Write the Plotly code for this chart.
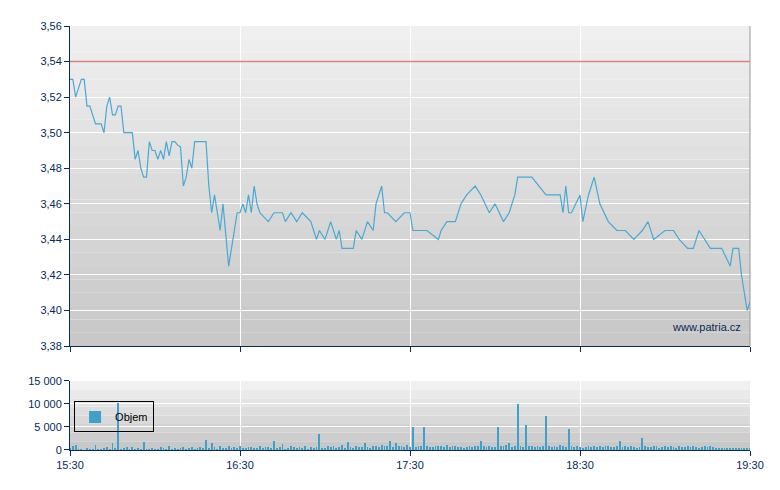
import plotly.graph_objects as go
from datetime import datetime, timedelta

t0 = datetime(2024, 1, 1, 15, 30)
price_min = [0,1,2,3,4,5,6,7,9,11,12,13,14,15,16,17,18,19,22,23,24,25,26,27,28,29,30,31,32,33,34,35,36,37,38,39,40,41,42,43,44,48,49,50,51,52,53,54,55,56,57,58,59,60,61,62,63,64,65,66,67,70,72,75,76,78,80,82,85,86,87,88,90,92,94,95,96,100,101,103,105,107,108,109,110,111,112,115,118,120,121,123,126,130,131,133,136,138,140,143,145,148,150,153,155,157,158,163,168,173,174,175,176,177,180,181,183,185,187,190,193,196,199,202,204,206,210,213,215,218,220,222,224,226,230,233,234,236,237,238,239,240]
price_val = [3.53,3.53,3.52,3.525,3.53,3.53,3.515,3.515,3.505,3.505,3.50,3.515,3.52,3.51,3.51,3.515,3.515,3.50,3.50,3.485,3.49,3.48,3.475,3.475,3.495,3.49,3.49,3.485,3.49,3.485,3.495,3.487,3.495,3.495,3.493,3.492,3.47,3.475,3.485,3.48,3.495,3.495,3.47,3.455,3.465,3.455,3.445,3.46,3.44,3.425,3.435,3.445,3.455,3.455,3.46,3.455,3.465,3.455,3.47,3.46,3.455,3.45,3.455,3.455,3.45,3.455,3.45,3.455,3.45,3.445,3.44,3.445,3.44,3.45,3.44,3.445,3.435,3.435,3.445,3.44,3.45,3.445,3.46,3.465,3.47,3.455,3.455,3.45,3.455,3.455,3.445,3.445,3.445,3.44,3.445,3.45,3.45,3.46,3.465,3.47,3.465,3.455,3.46,3.45,3.455,3.465,3.475,3.475,3.465,3.465,3.455,3.47,3.455,3.455,3.465,3.45,3.465,3.475,3.46,3.45,3.445,3.445,3.44,3.445,3.45,3.44,3.445,3.445,3.44,3.435,3.435,3.445,3.44,3.435,3.435,3.425,3.435,3.435,3.42,3.41,3.40,3.405]
vol_min = list(range(0, 241))
vol_val = [500,800,1100,300,200,0,400,300,200,1200,300,200,500,700,300,1500,400,10200,300,400,600,300,700,200,400,300,1800,200,300,400,300,200,600,400,300,900,200,400,300,500,700,300,400,600,300,500,700,400,2200,400,1600,600,300,800,400,500,900,500,600,400,800,500,400,600,700,400,500,900,400,700,600,500,1900,400,600,1400,300,500,1000,700,500,600,400,800,300,600,500,700,3500,500,400,800,600,900,500,700,1200,500,1700,700,500,900,600,700,1500,600,500,800,900,700,1200,1000,800,2000,600,1500,800,900,700,1100,600,5000,700,800,900,5000,800,600,700,900,1000,800,600,1200,700,900,800,600,700,500,600,900,700,800,1000,2000,900,700,800,600,700,5000,900,800,1100,1500,700,900,10000,800,600,5500,900,1000,700,800,600,900,7500,800,700,900,600,1200,800,700,4500,900,600,800,700,500,600,900,700,800,600,1000,700,800,900,700,600,800,2000,700,900,600,800,700,500,600,2700,800,700,600,900,800,500,700,800,600,900,700,500,800,600,700,900,600,800,700,500,600,800,700,900,600,500]
vol_val = (vol_val + [500]*241)[:241]
ref_price = 3.54
tick_labels = ["15:30", "16:30", "17:30", "18:30", "19:30"]

px = [t0 + timedelta(minutes=m) for m in price_min]
vx = [t0 + timedelta(minutes=m) for m in vol_min]

fig = go.Figure()
fig.add_trace(go.Scatter(x=px, y=price_val, mode="lines", line=dict(color="#4aa8d4", width=1.2), showlegend=False, xaxis="x", yaxis="y"))
fig.add_trace(go.Scatter(x=[px[0], t0 + timedelta(minutes=240)], y=[ref_price, ref_price], mode="lines", line=dict(color="#e08080", width=1.5), showlegend=False, xaxis="x", yaxis="y"))
fig.add_trace(go.Bar(x=vx, y=vol_val, name="Objem", marker=dict(color="#3fa0cc", line=dict(width=0)), width=18000, xaxis="x2", yaxis="y2"))

shapes = []
for ax, n in [("y", 24), ("y2", 8)]:
    for i in range(n):
        g = int(200 + 40 * i / (n - 1))
        shapes.append(dict(type="rect", xref="x domain" if ax == "y" else "x2 domain", yref=ax + " domain", x0=0, x1=1, y0=i / n, y1=(i + 1) / n, fillcolor=f"rgb({g},{g},{g})", line=dict(width=0), layer="below"))

start, end = t0, t0 + timedelta(minutes=240)
ticks = [t0 + timedelta(hours=h) for h in range(5)]
axcol = "#0a2a5a"
common_x = dict(range=[start, end], tickmode="array", tickvals=ticks, showgrid=True, gridcolor="white", gridwidth=1.2, showline=True, linecolor=axcol, ticks="outside", tickcolor=axcol, ticklen=5, zeroline=False, automargin=False)
common_y = dict(showgrid=True, gridcolor="white", gridwidth=1.2, showline=True, linecolor=axcol, ticks="outside", tickcolor=axcol, ticklen=5, zeroline=False, automargin=False)
fig.update_layout(
    width=780, height=490, margin=dict(l=62, r=38, t=18, b=48, autoexpand=False),
    paper_bgcolor="white", plot_bgcolor="rgba(0,0,0,0)", separators=", ",
    font=dict(family="Liberation Sans, Arial", size=11, color=axcol),
    shapes=shapes,
    xaxis=dict(**common_x, domain=[0, 1], anchor="y", showticklabels=False),
    yaxis=dict(**common_y, domain=[0.245, 1], range=[3.38, 3.56], dtick=0.02, tickformat=".2f"),
    xaxis2=dict(**common_x, domain=[0, 1], anchor="y2", ticktext=tick_labels),
    yaxis2=dict(**common_y, domain=[0, 0.163], range=[0, 15000], tickvals=[0, 5000, 10000, 15000], tickformat=",d"),
    legend=dict(x=0.006, y=0.078, xanchor="left", yanchor="middle", bgcolor="rgba(0,0,0,0)", bordercolor="black", borderwidth=1, font=dict(size=11, color="black"), itemwidth=30, tracegroupgap=0),
    bargap=0,
)
fig.add_annotation(text="www.patria.cz", xref="x domain", yref="y domain", x=0.99, y=0.06, xanchor="right", yanchor="middle", showarrow=False, font=dict(size=11, color=axcol))
fig.add_shape(type="line", xref="x domain", yref="y domain", x0=1, x1=1, y0=0, y1=1, line=dict(color="#999999", width=1))
fig.write_html("out.html")
